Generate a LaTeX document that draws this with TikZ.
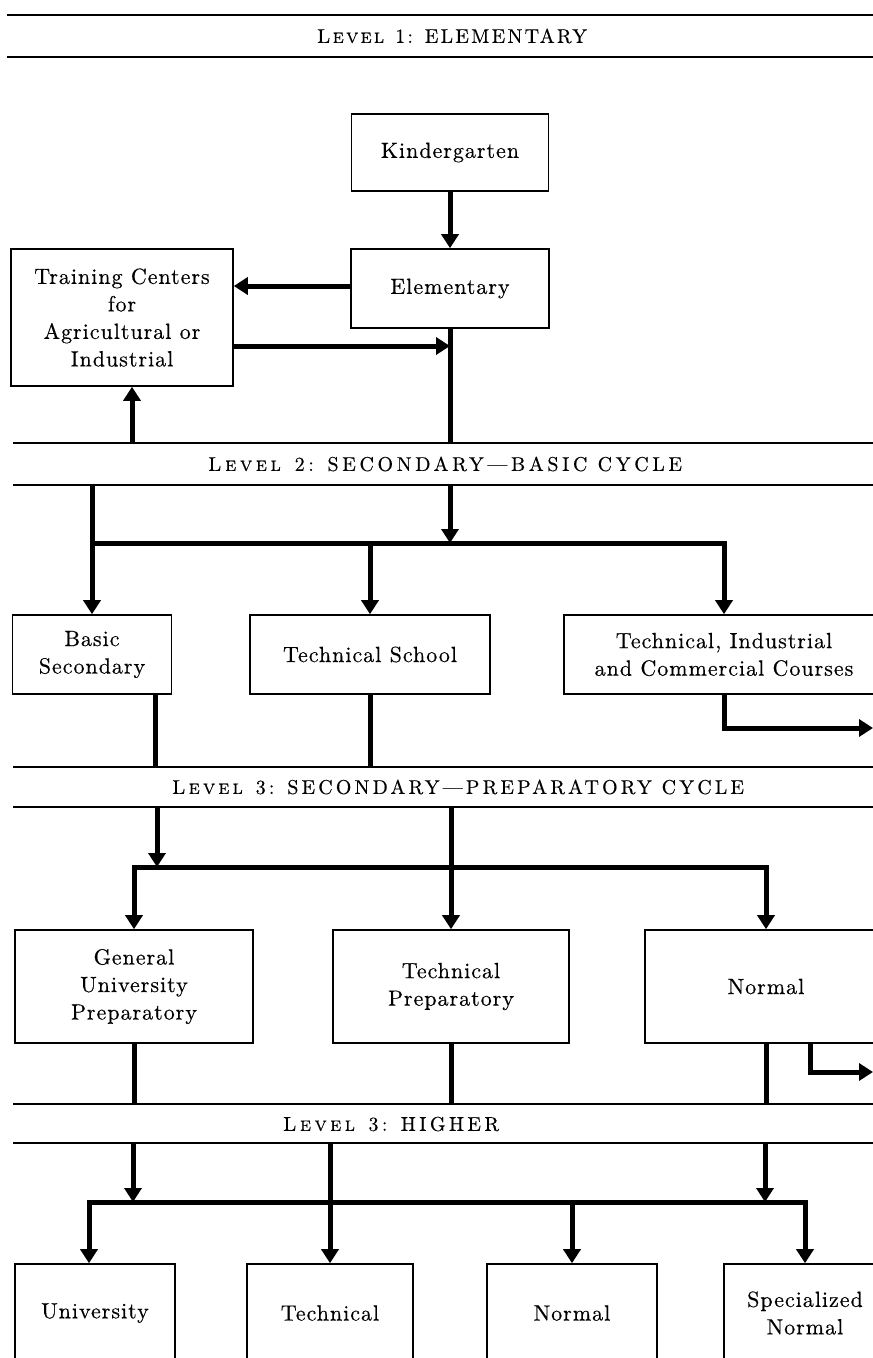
\documentclass[tikz,border=0pt]{standalone}
\usepackage{fontspec}
\setmainfont{lmroman10-regular.otf}[Ligatures=TeX, SmallCapsFont=lmromancaps10-regular.otf]
\newfontfamily\diagboxfam{lmroman10-regular.otf}[Ligatures=TeX, LetterSpace=4.5, FakeBold=0.35]
\newcommand\diagbandfamdef[2]{%
  \newfontfamily#1{lmroman10-regular.otf}[Ligatures=TeX, LetterSpace=#2, FakeBold=0.3,
    SmallCapsFont=lmromancaps10-regular.otf, SmallCapsFeatures={LetterSpace=#2, FakeBold=0.3}]}
\diagbandfamdef\diagbandAfam{11}
\diagbandfamdef\diagbandBfam{18}
\diagbandfamdef\diagbandCfam{15.5}
\diagbandfamdef\diagbandDfam{17}
\usetikzlibrary{arrows.meta}
\newcommand\diagboxfont{\diagboxfam\fontsize{22}{27.5}\selectfont}
\tikzset{
  box/.style={draw, line width=1.6pt, inner sep=0pt, align=center, font=\diagboxfont},
  conn/.style={line width=5pt, line join=miter},
  arr/.style={conn, -{Triangle[width=17pt,length=14pt]}},
  darr/.style={conn, {Triangle[width=17pt,length=14pt]}-{Triangle[width=17pt,length=14pt]}},
  bandline/.style={line width=2.4pt},
  bandtext/.style={inner sep=0pt},
  bandA/.style={bandtext, font=\diagbandAfam\fontsize{20}{24}\selectfont},
  bandB/.style={bandtext, font=\diagbandBfam\fontsize{20}{24}\selectfont},
  bandC/.style={bandtext, font=\diagbandCfam\fontsize{20}{24}\selectfont},
  bandD/.style={bandtext, font=\diagbandDfam\fontsize{20}{24}\selectfont},
}
\begin{document}
\begin{tikzpicture}[x=1pt,y=-1pt]
\useasboundingbox (0,0) rectangle (873,1358);
\fill[white] (0,0) rectangle (873,1358);
\clip (0,0) rectangle (873,1358);

% ---------- band coordinates
\coordinate (b1t) at (0,15);   \coordinate (b1b) at (0,57);
\coordinate (b2t) at (0,443);  \coordinate (b2b) at (0,485);
\coordinate (b3t) at (0,767);  \coordinate (b3b) at (0,807);
\coordinate (b4t) at (0,1104); \coordinate (b4b) at (0,1143);

% ---------- bands
\draw[bandline] (7,15) -- (873,15);
\draw[bandline] (7,57) -- (873,57);
\node[bandA] (h1) at (452,36) {\textsc{Level} 1: ELEMENTARY};

\draw[bandline] (13,443) -- (873,443);
\draw[bandline] (13,485) -- (873,485);
\node[bandB] (h2) at (445,464) {\textsc{Level} 2: SECONDARY---BASIC CYCLE};

\draw[bandline] (13,767) -- (873,767);
\draw[bandline] (13,807) -- (873,807);
\node[bandC] (h3) at (458,787) {\textsc{Level} 3: SECONDARY---PREPARATORY CYCLE};

\draw[bandline] (13,1104) -- (873,1104);
\draw[bandline] (13,1143) -- (873,1143);
\node[bandD] (h4) at (391,1124) {\textsc{Level} 3: HIGHER};

% ---------- level 1 boxes
\node[box, minimum width=197pt, minimum height=77pt] (kg) at (450,152.5) {Kindergarten};
\node[box, minimum width=198pt, minimum height=79pt] (el) at (450,288.5) {Elementary};
\node[box, minimum width=222pt, minimum height=137pt] (tc) at (122,317.5) {Training Centers\\for\\Agricultural or\\Industrial};

% ---------- level 2 boxes
\node[box, minimum width=159pt, minimum height=79pt] (bs) at (92,654.5) {Basic\\Secondary};
\node[box, minimum width=240pt, minimum height=79pt] (ts) at (370,654.5) {Technical School};
\node[box, minimum width=320pt, minimum height=79pt] (tic) at (724,654.5) {Technical, Industrial\\and Commercial Courses};

% ---------- level 3 boxes
\node[box, minimum width=238pt, minimum height=113pt] (gup) at (134,986.5) {General\\University\\Preparatory};
\node[box, minimum width=236pt, minimum height=113pt] (tp) at (451,986.5) {Technical\\Preparatory};
\node[box, minimum width=242pt, minimum height=113pt] (nm) at (766,986.5) {Normal};

% ---------- higher boxes
\node[box, minimum width=160pt, minimum height=98pt] (un) at (95,1313) {University};
\node[box, minimum width=166pt, minimum height=98pt] (te) at (330,1313) {Technical};
\node[box, minimum width=170pt, minimum height=98pt] (no) at (572,1313) {Normal};
\node[box, minimum width=162pt, minimum height=98pt] (sn) at (805,1313) {Specialized\\Normal};

% ---------- level 1 connectors
\coordinate (e2t) at (0,286);
\coordinate (t2e) at (0,346);
\coordinate (c132) at (132,0);
\draw[arr] (kg.south) -- (el.north);
\draw[arr] (el.west |- e2t) -- (tc.east |- e2t);
\draw[arr] (tc.east |- t2e) -- (el.south |- t2e);
\draw[conn] (el.south) -- (el.south |- b2t);
\draw[arr] (c132 |- b2t) -- (c132 |- tc.south);

% ---------- level 2 connectors
\coordinate (bar2) at (0,543);
\coordinate (c155) at (155,0);
\coordinate (tout) at (873,728);
\draw[arr] (bs.north |- b2b) -- (bs.north);
\draw[arr] (el.south |- b2b) -- (el.south |- bar2);
\draw[arr] (bs.north |- bar2) -- (tic.north |- bar2) -- (tic.north);
\draw[arr] (ts.north |- bar2) -- (ts.north);
\draw[conn] (c155 |- bs.south) -- (c155 |- b3t);
\draw[conn] (ts.south) -- (ts.south |- b3t);
\draw[arr] (tic.south) -- (tic.south |- tout) -- (tout);

% ---------- level 3 connectors
\coordinate (bar3) at (0,867);
\coordinate (c157) at (157,0);
\coordinate (c810) at (810,0);
\coordinate (nout) at (873,1072);
\draw[arr] (c157 |- b3b) -- (c157 |- bar3);
\draw[darr] (gup.north) -- (gup.north |- bar3) -- (nm.north |- bar3) -- (nm.north);
\draw[arr] (tp.north |- b3b) -- (tp.north);
\draw[conn] (gup.south) -- (gup.south |- b4t);
\draw[conn] (tp.south) -- (tp.south |- b4t);
\draw[conn] (nm.south) -- (nm.south |- b4t);
\draw[arr] (c810 |- nm.south) -- (c810 |- nout) -- (nout);

% ---------- higher connectors
\coordinate (bar4) at (0,1202);
\coordinate (c133) at (133,0);
\coordinate (c765) at (765,0);
\coordinate (c89) at (89,0);
\draw[arr] (c133 |- b4b) -- (c133 |- bar4);
\draw[arr] (te.north |- b4b) -- (te.north);
\draw[arr] (c765 |- b4b) -- (c765 |- bar4);
\draw[darr] (c89 |- un.north) -- (c89 |- bar4) -- (sn.north |- bar4) -- (sn.north);
\draw[arr] (no.north |- bar4) -- (no.north);
\end{tikzpicture}
\end{document}
